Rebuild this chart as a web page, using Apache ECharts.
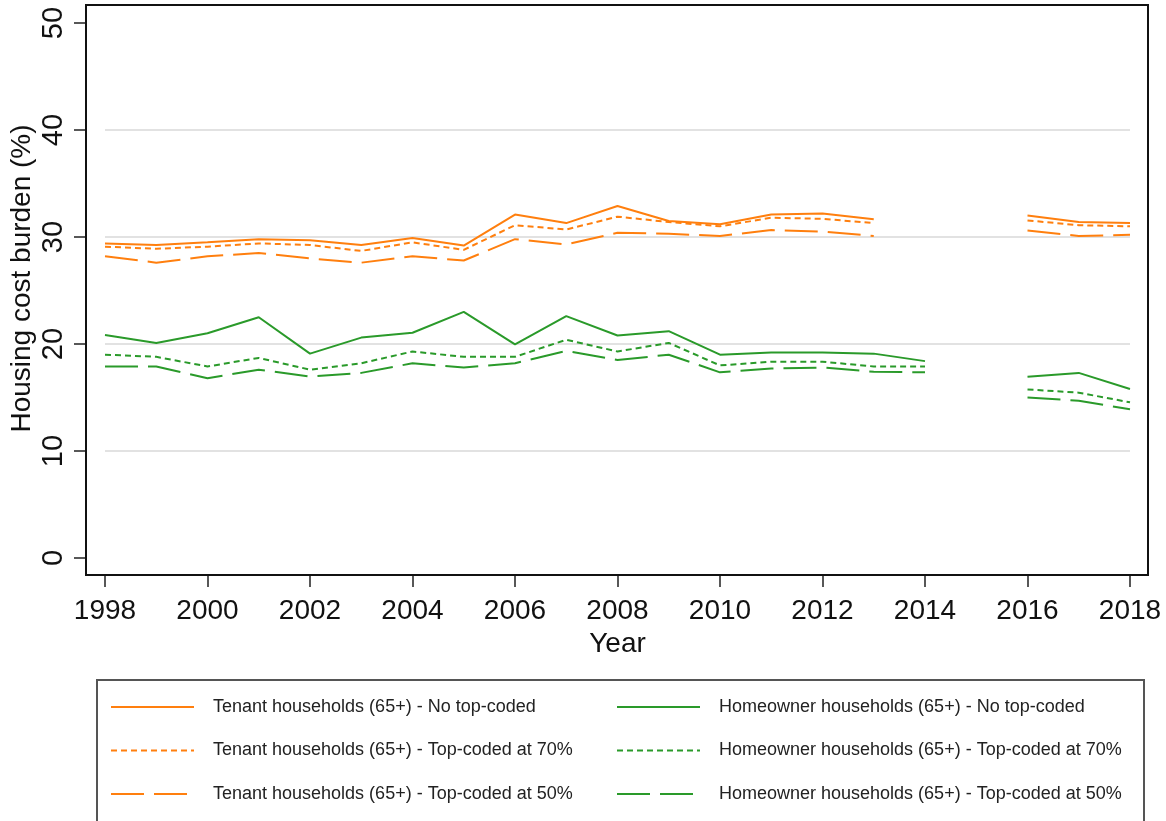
<!DOCTYPE html>
<html>
<head>
<meta charset="utf-8">
<script src="https://cdn.jsdelivr.net/npm/echarts@6/dist/echarts.min.js"></script>
<style>
  html, body { margin: 0; padding: 0; background: #fff; }
  #chart { width: 1166px; height: 821px; }
</style>
</head>
<body>
<div id="chart"></div>
<script>
// years on the x axis (2015 has no survey data)
const years = [1998, 1999, 2000, 2001, 2002, 2003, 2004, 2005, 2006, 2007, 2008, 2009, 2010, 2011, 2012, 2013, 2014, 2015, 2016, 2017, 2018]
const yTicks = [0, 10, 20, 30, 40, 50]

// tenant households (65+)
const tenantNoTop = [29.4, 29.25, 29.5, 29.8, 29.7, 29.25, 29.9, 29.2, 32.1, 31.3, 32.9, 31.5, 31.2, 32.1, 32.2, 31.65, null, null, 32.0, 31.4, 31.3]
const tenant70 = [29.1, 28.9, 29.1, 29.4, 29.25, 28.7, 29.5, 28.8, 31.1, 30.7, 31.9, 31.4, 31.0, 31.8, 31.7, 31.3, null, null, 31.55, 31.1, 31.0]
const tenant50 = [28.2, 27.6, 28.2, 28.5, 28.0, 27.6, 28.2, 27.8, 29.8, 29.3, 30.4, 30.3, 30.1, 30.65, 30.5, 30.1, null, null, 30.6, 30.1, 30.2]

// homeowner households (65+)
const ownerNoTop = [20.85, 20.1, 21.0, 22.5, 19.1, 20.6, 21.05, 23.0, 19.97, 22.6, 20.8, 21.2, 19.0, 19.2, 19.2, 19.1, 18.4, null, 16.95, 17.3, 15.8]
const owner70 = [19.0, 18.8, 17.9, 18.7, 17.6, 18.2, 19.3, 18.8, 18.8, 20.4, 19.3, 20.1, 18.0, 18.35, 18.35, 17.9, 17.9, null, 15.75, 15.45, 14.55]
const owner50 = [17.9, 17.9, 16.8, 17.6, 16.95, 17.3, 18.2, 17.8, 18.2, 19.35, 18.5, 19.0, 17.35, 17.7, 17.8, 17.4, 17.35, null, 15.0, 14.7, 13.9]

const ORANGE = '#ff7f0e'
const GREEN = '#2a9a2a'
const FONT = "'Liberation Sans', Arial, sans-serif"
const SOLID = 'solid'
const DOTTED = [6, 4]
const LONGDASH = [33, 10]

function mkSeries(name, vals, color, dash) {
  return {
    name: name,
    type: 'line',
    data: years.map((y, i) => [y, vals[i]]),
    showSymbol: false,
    symbol: 'none',
    connectNulls: false,
    animation: false,
    itemStyle: { color: color },
    lineStyle: { color: color, width: 2, type: dash }
  }
}

const tenantNames = [
  'Tenant households (65+) - No top-coded',
  'Tenant households (65+) - Top-coded at 70%',
  'Tenant households (65+) - Top-coded at 50%'
]
const ownerNames = [
  'Homeowner households (65+) - No top-coded',
  'Homeowner households (65+) - Top-coded at 70%',
  'Homeowner households (65+) - Top-coded at 50%'
]

let legendBase = {
  orient: 'vertical',
  top: 697,
  padding: 0,
  itemWidth: 83,
  itemHeight: 14,
  itemGap: 23.5,
  selectedMode: false,
  itemStyle: { opacity: 0 },
  textStyle: { fontFamily: FONT, fontSize: 18, color: '#222', lineHeight: 20, padding: [0, 0, 0, 14] }
}

let chart = echarts.init(document.getElementById('chart'))
chart.setOption({
  backgroundColor: '#fff',
  animation: false,
  grid: { left: 105, right: 36, top: 23, bottom: 263, outerBoundsMode: 'none', containLabel: false },
  xAxis: {
    type: 'value',
    min: 1998,
    max: 2018,
    interval: 2,
    offset: 17,
    name: 'Year',
    nameLocation: 'middle',
    nameGap: 54,
    nameTextStyle: { fontFamily: FONT, fontSize: 28, color: '#111' },
    axisLine: { show: true, onZero: false, lineStyle: { color: 'transparent' } },
    axisTick: { show: true, inside: false, length: 12, lineStyle: { color: '#222', width: 1.5 } },
    axisLabel: { fontFamily: FONT, fontSize: 28, color: '#111', margin: 22, formatter: v => String(v) },
    splitLine: { show: false }
  },
  yAxis: {
    type: 'value',
    min: yTicks[0],
    max: yTicks[yTicks.length - 1],
    interval: 10,
    offset: 19,
    name: 'Housing cost burden (%)',
    nameLocation: 'middle',
    nameGap: 50,
    nameMoveOverlap: false,
    nameTextStyle: { fontFamily: FONT, fontSize: 28, color: '#111', padding: [0, 0, 0, 24] },
    axisLine: { show: true, onZero: false, lineStyle: { color: 'transparent' } },
    axisTick: { show: true, inside: false, length: 12, lineStyle: { color: '#222', width: 1.5 } },
    axisLabel: { fontFamily: FONT, fontSize: 29, color: '#111', margin: 18, rotate: 90 },
    splitLine: {
      show: true,
      lineStyle: { color: ['transparent', '#e2e2e2', '#e2e2e2', '#e2e2e2', '#e2e2e2', 'transparent'], width: 2 }
    }
  },
  legend: [
    Object.assign({}, legendBase, { left: 110, data: tenantNames }),
    Object.assign({}, legendBase, { left: 616, data: ownerNames })
  ],
  graphic: [
    {
      type: 'rect',
      z: 100,
      silent: true,
      shape: { x: 86, y: 5, width: 1062, height: 570 },
      style: { fill: 'none', stroke: '#111', lineWidth: 2 }
    },
    {
      type: 'rect',
      z: 100,
      silent: true,
      shape: { x: 97, y: 680, width: 1047, height: 200 },
      style: { fill: 'none', stroke: '#555', lineWidth: 2 }
    }
  ],
  series: [
    mkSeries(tenantNames[0], tenantNoTop, ORANGE, SOLID),
    mkSeries(tenantNames[1], tenant70, ORANGE, DOTTED),
    mkSeries(tenantNames[2], tenant50, ORANGE, LONGDASH),
    mkSeries(ownerNames[0], ownerNoTop, GREEN, SOLID),
    mkSeries(ownerNames[1], owner70, GREEN, DOTTED),
    mkSeries(ownerNames[2], owner50, GREEN, LONGDASH)
  ]
})
</script>
</body>
</html>
